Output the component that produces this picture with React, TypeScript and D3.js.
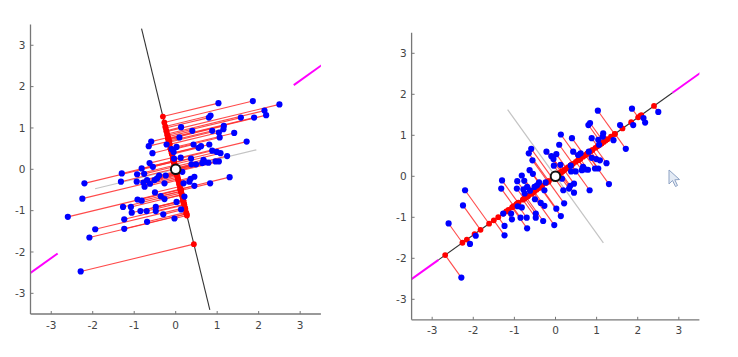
import React from 'react';
import * as d3 from 'd3';

// Sample points
const xs = [
  1.03, 1.86, 2.50, 2.14, 2.18, 1.57, 1.89, 0.80, 0.84, 1.16,
  1.15, 0.13, 0.40, 0.88, 1.04, 1.41, 1.06, 0.09, 1.71, -0.59,
  -0.65, -0.22, 0.43, 0.61, 0.81, 0.02, -0.10, -0.05, 0.88, 0.99,
  1.08, -0.56, -0.04, 0.37, 1.24, 0.67, -0.63, 0.38, 0.49, 0.64,
  0.79, 0.96, 1.04, -0.82, -0.55, -1.30, -0.93, -0.76, -2.20, -1.32,
  -0.94, -0.78, -0.69, -0.51, -0.40, -0.24, -0.27, -0.75, 0.16, 0.19,
  0.33, 0.36, 0.45, 0.83, 1.30, 0.45, -2.25, -0.50, -0.36, -0.27,
  -0.92, -0.82, 0.21, 0.02, -2.60, -1.27, -1.08, -1.06, -0.85, -0.70,
  -0.48, -0.48, -0.30, 0.13, -0.03, -1.24, -0.69, -1.94, -1.24, -2.08,
  -2.29, 0.12, 0.72, -0.45, -0.62, 0.55,
];
const ys = [
  1.60, 1.65, 1.57, 1.42, 1.31, 1.25, 1.25, 1.25, 1.30, 1.05,
  0.97, 1.02, 0.93, 0.93, 0.89, 0.88, 0.77, 0.77, 0.67, 0.67,
  0.56, 0.60, 0.60, 0.56, 0.60, 0.54, 0.49, 0.42, 0.45, 0.42,
  0.39, 0.39, 0.26, 0.26, 0.32, 0.23, 0.15, 0.12, 0.12, 0.15,
  0.16, 0.19, 0.19, 0.02, 0.06, -0.10, -0.12, -0.11, -0.34, -0.30,
  -0.30, -0.32, -0.26, -0.26, -0.15, -0.15, -0.34, -0.42, -0.06, -0.34,
  -0.30, -0.23, -0.18, -0.34, -0.19, -0.40, -0.71, -0.56, -0.65, -0.72,
  -0.73, -0.76, -0.66, -0.79, -1.15, -0.91, -0.91, -1.05, -1.01, -1.01,
  -0.91, -1.01, -1.09, -0.97, -1.19, -1.21, -1.27, -1.45, -1.44, -1.65,
  -2.47, 0.28, 0.17, -0.22, -0.35, 0.52,
];

const tickValues = [-3, -2, -1, 0, 1, 2, 3];
const axisDomain = [-3.5, 3.5];

// Projection directions (degrees)
const leftAngleDeg = -76.4;
const rightAngleDeg = 35.6;
const principalAngleDeg = 35.6;

const lineHalf = 3.5;
const perpHalf = 2;
const principalOuter = 5.5;

type PanelProps = {
  id: string;
  xRange: [number, number];
  yRange: [number, number];
  angleDeg: number;
};

function Panel({ id, xRange, yRange, angleDeg }: PanelProps) {
  const x = d3.scaleLinear().domain(axisDomain).range(xRange);
  const y = d3.scaleLinear().domain(axisDomain).range(yRange);
  const a = (angleDeg * Math.PI) / 180;
  const dx = Math.cos(a);
  const dy = Math.sin(a);
  const pa = (principalAngleDeg * Math.PI) / 180;
  const pdx = Math.cos(pa);
  const pdy = Math.sin(pa);

  const line = d3
    .line<[number, number]>()
    .x((d) => x(d[0]))
    .y((d) => y(d[1]));

  const pts = xs.map((v, i) => {
    const t = v * dx + ys[i] * dy;
    return { px: v, py: ys[i], qx: t * dx, qy: t * dy };
  });

  const x0 = Math.min(...xRange);
  const x1 = Math.max(...xRange);
  const y0 = Math.min(...yRange);
  const y1 = Math.max(...yRange);

  return (
    <g>
      <defs>
        <clipPath id={`clip-${id}`}>
          <rect x={x0} y={y0} width={x1 - x0} height={y1 - y0} />
        </clipPath>
      </defs>
      <g clipPath={`url(#clip-${id})`}>
        <path
          d={line([[lineHalf * pdx, lineHalf * pdy], [principalOuter * pdx, principalOuter * pdy]]) || ''}
          stroke="#ff00ff"
          strokeWidth={2}
          fill="none"
        />
        <path
          d={line([[-lineHalf * pdx, -lineHalf * pdy], [-principalOuter * pdx, -principalOuter * pdy]]) || ''}
          stroke="#ff00ff"
          strokeWidth={2}
          fill="none"
        />
        <path
          d={line([[-perpHalf * dy, perpHalf * dx], [perpHalf * dy, -perpHalf * dx]]) || ''}
          stroke="#c4c4c4"
          strokeWidth={1.2}
          fill="none"
        />
        <path
          d={line([[-lineHalf * dx, -lineHalf * dy], [lineHalf * dx, lineHalf * dy]]) || ''}
          stroke="#333"
          strokeWidth={1.1}
          fill="none"
        />
        {pts.map((p, i) => (
          <line
            key={`l${i}`}
            x1={x(p.px)}
            y1={y(p.py)}
            x2={x(p.qx)}
            y2={y(p.qy)}
            stroke="#ff2a2a"
            strokeOpacity={0.85}
            strokeWidth={1.1}
          />
        ))}
        {pts.map((p, i) => (
          <circle key={`r${i}`} cx={x(p.qx)} cy={y(p.qy)} r={2.9} fill="#ff0000" />
        ))}
        {pts.map((p, i) => (
          <circle key={`b${i}`} cx={x(p.px)} cy={y(p.py)} r={3.1} fill="#0000ff" />
        ))}
        <circle cx={x(0)} cy={y(0)} r={4.8} fill="#fff" stroke="#111" strokeWidth={2} />
      </g>
      {/* axes */}
      <line x1={x0} y1={y1} x2={x1} y2={y1} stroke="#777" strokeWidth={1.3} />
      <line x1={x0} y1={y0} x2={x0} y2={y1} stroke="#777" strokeWidth={1.3} />
      {tickValues.map((t) => (
        <g key={`xt${t}`}>
          <line x1={x(t)} x2={x(t)} y1={y1} y2={y1 - 3} stroke="#777" />
          <text
            x={x(t)}
            y={y1 + 14.5}
            textAnchor="middle"
            fontFamily="DejaVu Sans, sans-serif"
            fontSize={10.5}
            fill="#444"
          >
            {String(t)}
          </text>
        </g>
      ))}
      {tickValues.map((t) => (
        <g key={`yt${t}`}>
          <line x1={x0} x2={x0 + 3} y1={y(t)} y2={y(t)} stroke="#777" />
          <text
            x={x0 - 5}
            y={y(t) + 3.8}
            textAnchor="end"
            fontFamily="DejaVu Sans, sans-serif"
            fontSize={10.5}
            fill="#444"
          >
            {String(t)}
          </text>
        </g>
      ))}
    </g>
  );
}

export default function App() {
  return (
    <svg
      width={738}
      height={357}
      viewBox="0 0 738 357"
      style={{ position: 'absolute', left: 0, top: 0, background: '#fff' }}
    >
      <rect x={0} y={0} width={738} height={357} fill="#fff" />
      <Panel id="left" xRange={[30.5, 320.9]} yRange={[314, 24.6]} angleDeg={leftAngleDeg} />
      <Panel id="right" xRange={[411.6, 699.4]} yRange={[319.8, 32.8]} angleDeg={rightAngleDeg} />
      {/* mouse cursor seen in the screenshot */}
      <path
        d="M669,170 L669,184 L672.5,180.5 L675.5,186.5 L677.5,185.5 L674.8,179.8 L679.5,179.5 Z"
        fill="#e4ebf5"
        stroke="#8ea3c4"
        strokeWidth={1}
      />
    </svg>
  );
}
